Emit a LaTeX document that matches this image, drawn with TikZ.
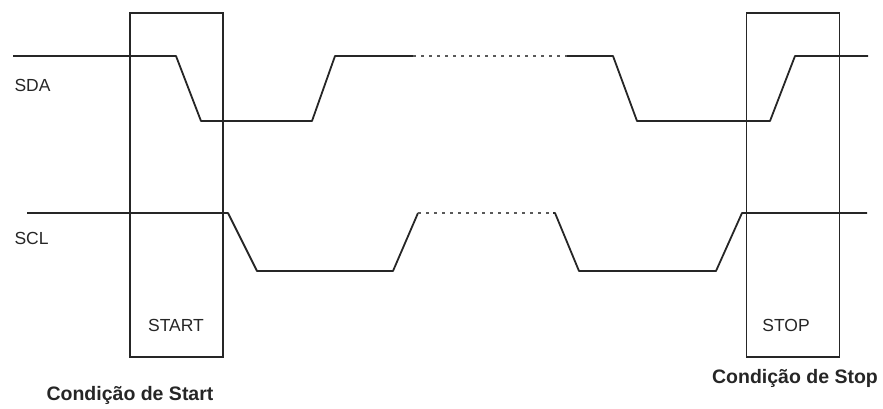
\documentclass[tikz,border=0pt]{standalone}
\usepackage{fontspec}
\setsansfont{Liberation Sans}
\usetikzlibrary{positioning}

\begin{document}
\begin{tikzpicture}[
    x=1pt, y=-1pt,
    font=\sffamily,
    sig/.style={line width=1.8pt, black!85, line join=round},
    idle/.style={line width=1.6pt, black!65, dash pattern=on 2.5pt off 5.5pt},
    cond/.style={draw, line width=1.8pt, black!85, minimum width=93pt,
                 minimum height=344pt, inner sep=0pt},
    lbl/.style={font=\sffamily\fontsize{17.5}{19}\selectfont, text=black!85},
    condcap/.style={font=\sffamily\bfseries\fontsize{19.5}{22}\selectfont, text=black!85},
  ]
\useasboundingbox (0,0) rectangle (883,408);

% condition boxes
\node[cond] (start) at (176.5,185) {};
\node[cond] (stop)  at (793,185) {};
\node[lbl] (startlbl) at (176,325) {START};
\node[lbl] (stoplbl)  at (786,325) {STOP};

% SDA
\coordinate (sdaA) at (413,56);
\coordinate (sdaB) at (567,56);
\draw[sig] (13,56) -- (176,56) -- (201,121) -- (312,121) -- (335,56) -- (sdaA);
\draw[idle] (sdaA) -- (sdaB);
\draw[sig] (sdaB) -- (613,56) -- (637,121) -- (770,121) -- (795,56) -- (868,56);

% SCL
\coordinate (sclA) at (418,213);
\coordinate (sclB) at (553,213);
\draw[sig] (27,213) -- (228,213) -- (257,271) -- (393,271) -- (sclA);
\draw[idle] (sclA) -- (sclB);
\draw[sig] (sclB) -- (555,213) -- (579,271) -- (716,271) -- (742,213) -- (867,213);

% labels
\node[lbl, anchor=west] (sda) at (11,85) {SDA};
\node[lbl, anchor=west] (scl) at (11,238) {SCL};
\node[condcap] (startcap) at (130,395) {Condição de Start};
\node[condcap] (stopcap)  at (795,378) {Condição de Stop};
\end{tikzpicture}
\end{document}
